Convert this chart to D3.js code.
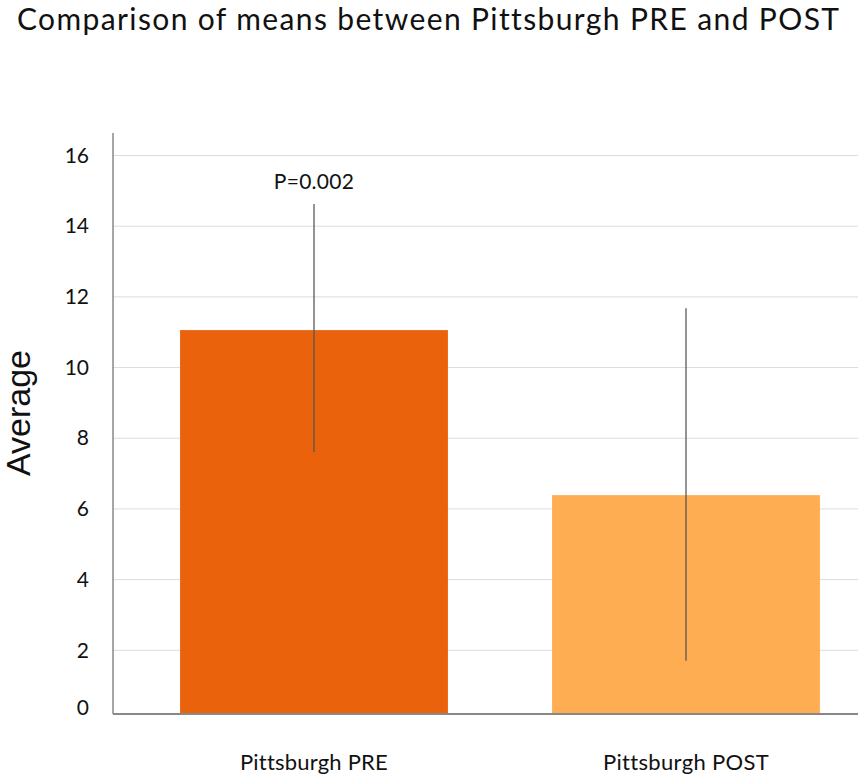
<!DOCTYPE html>
<html>
<head>
<meta charset="utf-8">
<script src="https://cdn.jsdelivr.net/npm/d3@7"></script>
<style>
  body { margin: 0; background: #fff; }
  svg { display: block; }
</style>
</head>
<body>
<svg id="chart" width="858" height="776"></svg>
<script>
// data
const categories = ['Pittsburgh PRE', 'Pittsburgh POST'];
const means = [11.06, 6.39];
const errLow = [7.61, 1.67];
const errHigh = [14.63, 11.68];
const tickValues = [0, 2, 4, 6, 8, 10, 12, 14, 16];
const colors = ['#EA630C', '#FFAD52'];
const pLabel = 'P=0.002';

const w = 858, h = 776;
const left = 113, right = 858, axisTop = 133, baseY = 714;

const svg = d3.select('#chart').attr('viewBox', `0 0 ${w} ${h}`);

// stretch a text's letter spacing so it spans about the same width as the reference
function fit(sel, target) {
  sel.each(function(d, i) {
    const t = typeof target === 'function' ? target(d, i) : target;
    const len = this.getComputedTextLength();
    const n = this.textContent.length;
    if (n > 1) d3.select(this).attr('letter-spacing', (t - len) / (n - 1));
  });
}

// the zero line sits a bit higher than a straight scale would put it
const y = d3.scaleLinear()
  .domain([0, 2, 16])
  .range([baseY, 650.3, 155.5]);

const x = d3.scaleBand()
  .domain(categories)
  .range([128, 872])
  .paddingInner(0.28)
  .paddingOuter(0.14);

// title
svg.append('text')
  .attr('x', 17)
  .attr('y', 30)
  .attr('font-family', 'Lato, sans-serif')
  .attr('font-size', 30)
  .attr('fill', '#111')
  .text('Comparison of means between Pittsburgh PRE and POST')
  .call(fit, 821);

// gridlines
svg.append('g')
  .selectAll('line')
  .data(tickValues.filter(d => d > 0))
  .enter()
  .append('line')
  .attr('x1', left)
  .attr('x2', right)
  .attr('y1', d => y(d))
  .attr('y2', d => y(d))
  .attr('stroke', '#dcdcdc')
  .attr('stroke-width', 1);

// y axis via d3
const yAxis = d3.axisLeft(y).tickValues(tickValues).tickSize(0).tickPadding(24);
const gy = svg.append('g')
  .attr('transform', `translate(${left},0)`)
  .call(yAxis);
gy.select('.domain').remove();
gy.selectAll('text')
  .attr('font-family', 'Lato, sans-serif')
  .attr('font-size', 21)
  .attr('fill', '#111')
  .attr('dy', d => d === 0 ? '0em' : '0.32em');

// bars
svg.append('g')
  .selectAll('rect')
  .data(categories)
  .enter()
  .append('rect')
  .attr('x', d => x(d))
  .attr('width', x.bandwidth())
  .attr('y', (d, i) => y(means[i]))
  .attr('height', (d, i) => y(0) - y(means[i]))
  .attr('fill', (d, i) => colors[i]);

// error bars
svg.append('g')
  .selectAll('line')
  .data(categories)
  .enter()
  .append('line')
  .attr('x1', d => x(d) + x.bandwidth() / 2)
  .attr('x2', d => x(d) + x.bandwidth() / 2)
  .attr('y1', (d, i) => y(errHigh[i]))
  .attr('y2', (d, i) => y(errLow[i]))
  .attr('stroke', '#555')
  .attr('stroke-opacity', 0.85)
  .attr('stroke-width', 1.5);

// p value annotation
svg.append('text')
  .attr('x', x(categories[0]) + x.bandwidth() / 2)
  .attr('y', 189)
  .attr('text-anchor', 'middle')
  .attr('font-family', 'Lato, sans-serif')
  .attr('font-size', 21)
  .attr('fill', '#111')
  .text(pLabel)
  .call(fit, 80);

// axis lines
svg.append('line')
  .attr('x1', left).attr('x2', left)
  .attr('y1', axisTop).attr('y2', baseY)
  .attr('stroke', '#888').attr('stroke-width', 1.5);
svg.append('line')
  .attr('x1', left).attr('x2', right)
  .attr('y1', baseY).attr('y2', baseY)
  .attr('stroke', '#888').attr('stroke-width', 2);

// x labels
svg.append('g')
  .selectAll('text')
  .data(categories)
  .enter()
  .append('text')
  .attr('x', d => x(d) + x.bandwidth() / 2)
  .attr('y', 770)
  .attr('text-anchor', 'middle')
  .attr('font-family', 'Lato, sans-serif')
  .attr('font-size', 22)
  .attr('fill', '#111')
  .text(d => d)
  .call(fit, (d, i) => [147, 165][i]);

// y label
svg.append('text')
  .attr('transform', 'translate(30,413) rotate(-90)')
  .attr('text-anchor', 'middle')
  .attr('font-family', '"Liberation Sans", Arial, sans-serif')
  .attr('font-size', 34)
  .attr('fill', '#111')
  .text('Average');
</script>
</body>
</html>
